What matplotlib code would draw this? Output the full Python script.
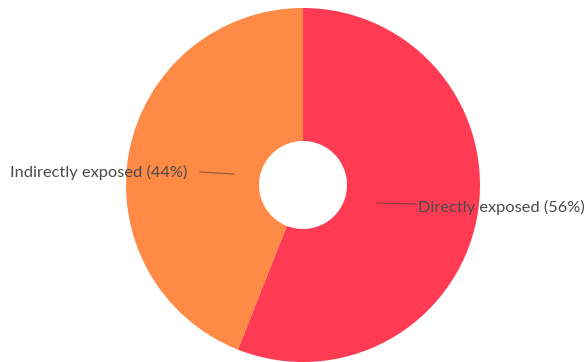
import matplotlib

matplotlib.use("Agg")
import matplotlib.pyplot as plt

labels = ["Directly exposed", "Indirectly exposed"]
shares = [56, 44]
colors = ["#FE3B53", "#FE8A45"]

W, H = 587, 362
CX, CY = 303, H - 185
RADIUS = 177
HOLE = 44

fig = plt.figure(figsize=(W / 100, H / 100), dpi=100)
ax = fig.add_axes([0, 0, 1, 1])

ax.pie(
    shares,
    colors=colors,
    startangle=90,
    counterclock=False,
    center=(CX, CY),
    radius=RADIUS,
    wedgeprops={"width": RADIUS - HOLE, "linewidth": 0},
    frame=True,
)
ax.set_xlim(0, W)
ax.set_ylim(0, H)
ax.set_aspect("equal")
ax.axis("off")

text_kw = dict(fontsize=11.8, family="Lato", color="#4a4a4a", va="center")

# left label with short leader line
ax.plot([200, 234], [H - 172, H - 174], color="#8a5a3a", lw=0.8)
ax.text(10, H - 172, f"{labels[1]} ({shares[1]}%)", ha="left", **text_kw)

# right label sits partly over the red slice
ax.plot([377, 416], [H - 203, H - 204], color="#8a3a3a", lw=0.8)
ax.text(418, H - 207, f"{labels[0]} ({shares[0]}%)", ha="left", **text_kw)

fig.savefig("out.png", dpi=100)
